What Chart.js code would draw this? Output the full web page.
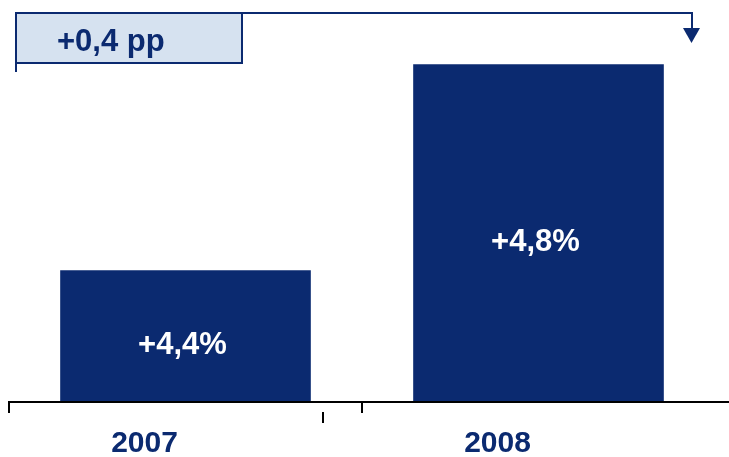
<!DOCTYPE html>
<html>
<head>
<meta charset="utf-8">
<script src="https://cdn.jsdelivr.net/npm/chart.js@4/dist/chart.umd.min.js"></script>
<style>
  html, body { margin: 0; padding: 0; background: #fff; }
  #wrap { width: 729px; height: 457px; }
</style>
</head>
<body>
<div id="wrap"><canvas id="growth_chart"></canvas></div>
<script>
// data
const years = ['2007', '2008'];
const growth = [4.4, 4.8];
const axisMin = 4.144;
const axisMax = 4.925;

const navy = '#0b2a70';
const font = '"Liberation Sans", Arial, sans-serif';

function fmt(v) {
    return '+' + v.toFixed(1).replace('.', ',');
}

// white value labels inside the bars, baseline, odd tick and the "+0,4 pp" bracket
const decorations = {
    id: 'decorations',
    afterDraw(chart) {
        const c = chart.ctx;
        const area = chart.chartArea;
        const xs = chart.scales.x;
        const ys = chart.scales.y;
        c.save();

        // value labels
        c.fillStyle = '#ffffff';
        c.font = 'bold 31px ' + font;
        c.textAlign = 'center';
        c.textBaseline = 'middle';
        for (let i = 0; i < growth.length; i++) {
            const px = xs.getPixelForValue(i);
            const top = ys.getPixelForValue(growth[i]);
            c.fillText(fmt(growth[i]) + '%', px - 3, (top + area.bottom) / 2 + 9);
        }

        // baseline runs out to the right edge
        c.strokeStyle = '#000';
        c.lineWidth = 2;
        c.beginPath();
        c.moveTo(area.left - 1, area.bottom);
        c.lineTo(chart.width, area.bottom);
        c.moveTo(323, area.bottom + 10);
        c.lineTo(323, area.bottom + 21);
        c.stroke();

        // bracket
        c.strokeStyle = navy;
        c.lineWidth = 2;
        c.beginPath();
        c.moveTo(16, 72);
        c.lineTo(16, 13);
        c.lineTo(692, 13);
        c.lineTo(692, 30);
        c.stroke();
        c.fillStyle = navy;
        c.beginPath();
        c.moveTo(683, 28);
        c.lineTo(700, 28);
        c.lineTo(691.5, 43);
        c.closePath();
        c.fill();

        // box
        c.fillStyle = '#d6e2f0';
        c.fillRect(16, 13, 226, 50);
        c.strokeRect(16, 13, 226, 50);
        c.fillStyle = navy;
        c.textAlign = 'left';
        c.fillText(fmt(growth[1] - growth[0]) + ' pp', 57, 42);
        c.restore();
    }
};

const ctx = document.getElementById('growth_chart').getContext('2d');
new Chart(ctx, {
    type: 'bar',
    data: {
        labels: years,
        datasets: [{
            data: growth,
            backgroundColor: navy,
            borderWidth: 0,
            categoryPercentage: 1,
            barPercentage: 0.71
        }]
    },
    options: {
        responsive: true,
        maintainAspectRatio: false,
        animation: false,
        devicePixelRatio: 1,
        layout: {
            padding: { left: 9, right: 14, top: 0, bottom: 0 }
        },
        plugins: {
            legend: { display: false },
            tooltip: { enabled: false }
        },
        scales: {
            x: {
                border: { display: false },
                afterFit: function (scale) {
                    scale.height = 55;
                },
                grid: {
                    offset: true,
                    drawOnChartArea: false,
                    drawTicks: true,
                    tickLength: 11,
                    lineWidth: 2,
                    color: function (c) {
                        return c.index < 2 ? '#000' : 'rgba(0,0,0,0)';
                    }
                },
                ticks: {
                    color: navy,
                    font: { family: font, size: 30, weight: 'bold' },
                    padding: 13,
                    labelOffset: -41,
                    maxRotation: 0
                }
            },
            y: {
                display: false,
                min: axisMin,
                max: axisMax
            }
        }
    },
    plugins: [decorations]
});
</script>
</body>
</html>
